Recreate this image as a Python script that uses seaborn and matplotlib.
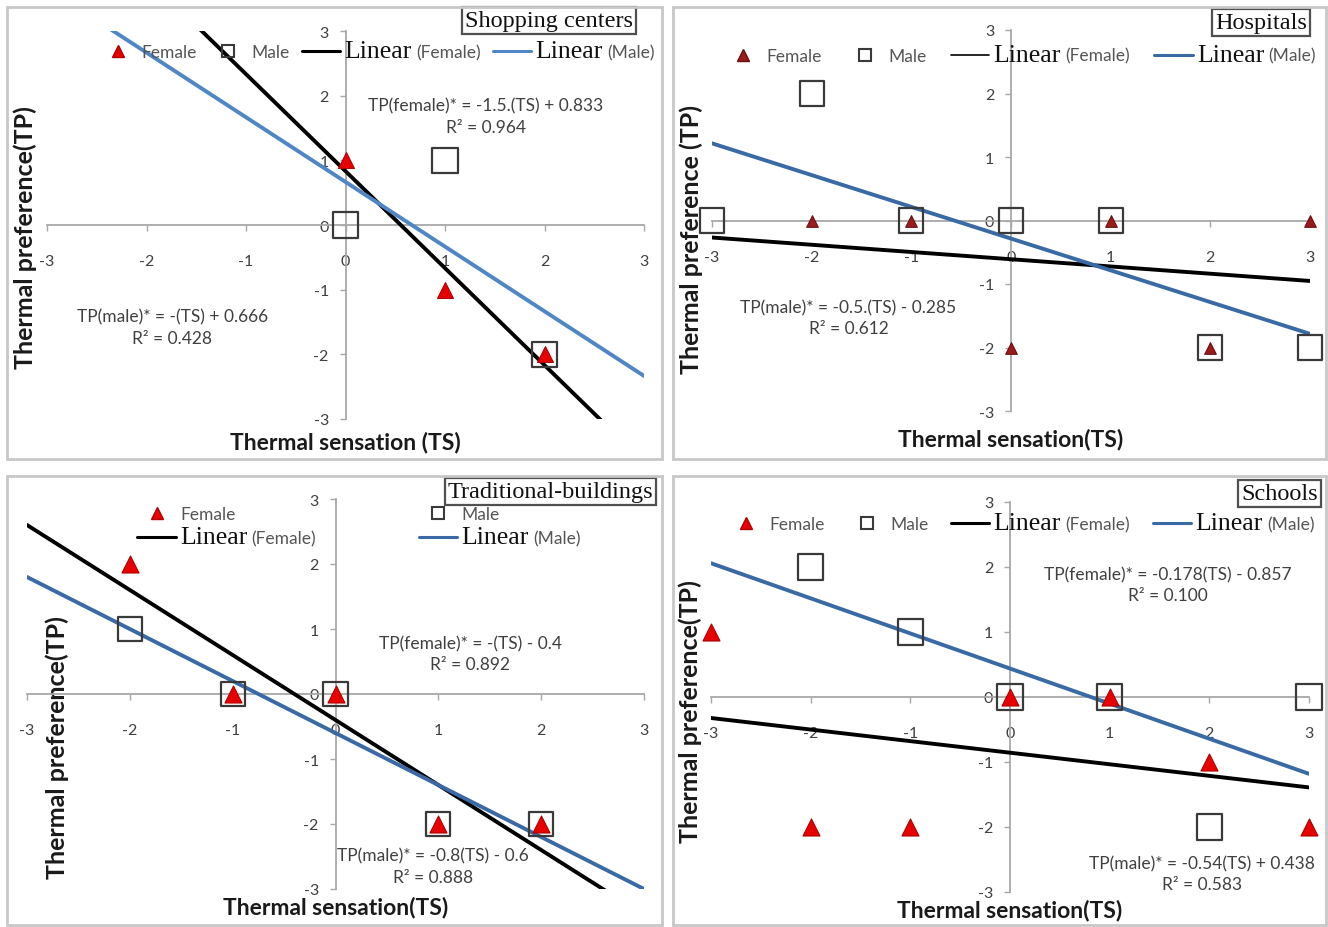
import numpy as np
import pandas as pd
import matplotlib
matplotlib.use("Agg")
import matplotlib.pyplot as plt
import seaborn as sns
from matplotlib.patches import Rectangle
from matplotlib.lines import Line2D
from matplotlib.offsetbox import TextArea

# ---------------- data ----------------
panel_titles = ["Shopping centers", "Hospitals", "Traditional-buildings", "Schools"]

female_ts = [[0, 1, 2], [-2, -1, 0, 1, 2, 3], [-2, -1, 0, 1, 2], [-3, -2, -1, 0, 1, 2, 3]]
female_tp = [[1, -1, -2], [0, 0, -2, 0, -2, 0], [2, 0, 0, -2, -2], [1, -2, -2, 0, 0, -1, -2]]
male_ts = [[0, 1, 2], [-3, -2, -1, 0, 1, 2, 3], [-2, -1, 0, 1, 2], [-2, -1, 0, 1, 2, 3]]
male_tp = [[0, 1, -2], [0, 2, 0, 0, 0, -2, -2], [1, 0, 0, -2, -2], [2, 1, 0, 0, -2, 0]]

female_slope = [-1.5, -0.114, -1.0, -0.178]
female_intercept = [0.833, -0.61, -0.4, -0.857]
male_slope = [-1.0, -0.5, -0.8, -0.54]
male_intercept = [0.666, -0.285, -0.6, 0.438]

female_eq = ["TP(female)* = -1.5.(TS) + 0.833\nR² = 0.964", None,
             "TP(female)* = -(TS) - 0.4\nR² = 0.892",
             "TP(female)* = -0.178(TS) - 0.857\nR² = 0.100"]
male_eq = ["TP(male)* = -(TS) + 0.666\nR² = 0.428",
           "TP(male)* = -0.5.(TS) - 0.285\nR² = 0.612",
           "TP(male)* = -0.8(TS) - 0.6\nR² = 0.888",
           "TP(male)* = -0.54(TS) + 0.438\nR² = 0.583"]

axis_ticks = [-3, -2, -1, 0, 1, 2, 3]
x_labels = ["Thermal sensation (TS)", "Thermal sensation(TS)", "Thermal sensation(TS)", "Thermal sensation(TS)"]
y_labels = ["Thermal preference(TP)", "Thermal preference (TP)", "Thermal preference(TP)", "Thermal preference(TP)"]
legend_labels = ["Female", "Male", "Linear", "Linear"]
legend_suffix = ["(Female)", "(Male)"]

# ---------------- style / layout ----------------
sns.set_style("white")
plt.rcParams["font.family"] = ["Lato", "DejaVu Sans"]

W, H = 1328, 928
fig = plt.figure(figsize=(W / 100, H / 100), dpi=100)

def fx(px):
    return px / W

def fy(py):
    return 1 - py / H

# data area rectangles in pixels (left, top, right, bottom)
axes_px = [(47, 32, 644, 420), (712, 31, 1310, 412), (27, 500, 644, 890), (711, 503, 1309, 893)]
frames_px = [(7, 8, 662, 460), (673, 8, 1326, 460), (7, 477, 662, 926), (673, 477, 1326, 926)]
title_pos = [(0.982, 1.055), (0.995, 1.048), (1.015, 1.047), (1.015, 1.049)]
legend_anchor = [(0.552, 0.948), (0.515, 0.935), (0.538, 0.928), (0.518, 0.946)]
legend_ncol = [4, 4, 2, 4]
legend_colsp = [0.7, 1.4, 5.9, 1.3]
legend_rowsp = [0.0, 0.0, 0.25, 0.0]
xlabel_pos = [-0.057, -0.073, -0.046, -0.045]
ylabel_pos = [(-0.036, 0.471), (-0.034, 0.453), (0.049, 0.364), (-0.035, 0.464)]
female_eq_pos = [(1.41, 1.68), None, (1.31, 0.62), (1.58, 1.73)]
male_eq_pos = [(-1.74, -1.58), (-1.63, -1.53), (0.95, -2.65), (1.93, -2.72)]
blue = ["#4f86c6", "#3a6aa6", "#3a6aa6", "#3a6aa6"]
tri_face = ["#e80000", "#9b1b1b", "#e80000", "#e80000"]
tri_edge = ["#b00000", "#6b1010", "#b00000", "#b00000"]
tri_size = [130, 70, 150, 150]
sq_size = [330, 300, 300, 330]

text_gray = "#404040"

for k, (fl, ft, fr, fb) in enumerate(frames_px):
    fig.add_artist(Rectangle((fx(fl), fy(fb)), fx(fr - fl), (fb - ft) / H,
                             transform=fig.transFigure, fill=False,
                             edgecolor="#c8c8c8", linewidth=2))

for k in range(4):
    l, t, r, b = axes_px[k]
    ax = fig.add_axes([fx(l), fy(b), fx(r - l), (b - t) / H])
    ax.set_facecolor("none")

    xs = np.array([axis_ticks[0], axis_ticks[-1]], dtype=float)
    sns.lineplot(x=xs, y=female_slope[k] * xs + female_intercept[k], color="black",
                 linewidth=2.8, ax=ax, zorder=2)
    sns.lineplot(x=xs, y=male_slope[k] * xs + male_intercept[k], color=blue[k],
                 linewidth=2.8, ax=ax, zorder=2)

    sns.scatterplot(x=male_ts[k], y=male_tp[k], marker="s", s=sq_size[k],
                    facecolor="none", edgecolor="#3a3a3a", linewidth=1.6,
                    ax=ax, zorder=3, clip_on=False)
    sns.scatterplot(x=female_ts[k], y=female_tp[k], marker="^", s=tri_size[k],
                    color=tri_face[k], edgecolor=tri_edge[k], linewidth=0.8,
                    ax=ax, zorder=4, clip_on=False)

    ax.set_xlim(axis_ticks[0], axis_ticks[-1])
    ax.set_ylim(axis_ticks[0], axis_ticks[-1])
    ax.set_xticks(axis_ticks)
    ax.set_yticks(axis_ticks)
    ax.set_xticklabels([str(v) for v in axis_ticks])
    ax.set_yticklabels([str(v) for v in axis_ticks])

    for side in ["top", "right"]:
        ax.spines[side].set_visible(False)
    for side in ["left", "bottom"]:
        ax.spines[side].set_position(("data", 0))
        ax.spines[side].set_color("#a8a8a8")
        ax.spines[side].set_linewidth(1.3)
        ax.spines[side].set_zorder(1)
    ax.tick_params(axis="x", direction="out", length=4, width=1, color="#a8a8a8",
                   pad=17, labelsize=11.5, labelcolor=text_gray, bottom=True)
    ax.tick_params(axis="y", direction="out", length=4, width=1, color="#a8a8a8",
                   pad=8, labelsize=11.5, labelcolor=text_gray, left=True)

    ax.set_xlabel(x_labels[k], fontsize=16.5, fontweight="bold", color="#1a1a1a", va="center")
    ax.xaxis.set_label_coords(0.5, xlabel_pos[k])
    ax.set_ylabel(y_labels[k], fontsize=18, fontweight="bold", color="#1a1a1a", va="center")
    ax.yaxis.set_label_coords(*ylabel_pos[k])

    # equations
    if female_eq[k] is not None:
        ax.text(*female_eq_pos[k], female_eq[k], ha="center", va="center", fontsize=12.5,
                color=text_gray, linespacing=1.4, zorder=6)
    ax.text(*male_eq_pos[k], male_eq[k], ha="center", va="center", fontsize=12.5,
            color=text_gray, linespacing=1.4, zorder=6)

    # title box
    ax.text(*title_pos[k], panel_titles[k], transform=ax.transAxes, ha="right", va="top",
            family="Liberation Serif", fontsize=17.5, color="#111111", zorder=10,
            bbox=dict(boxstyle="square,pad=0.12", fc="white", ec="#505050", lw=1.6))

    # legend
    h_f = Line2D([], [], ls="none", marker="^", ms=9, mfc=tri_face[k], mec=tri_edge[k])
    h_m = Line2D([], [], ls="none", marker="s", ms=9, mfc="none", mec="#3a3a3a", mew=1.5)
    h_lf = Line2D([], [], color="black", lw=2.2 if k != 1 else 1.2)
    h_lm = Line2D([], [], color=blue[k], lw=2.2)
    if legend_ncol[k] == 2:
        handles = [h_f, h_lf, h_m, h_lm]
        labels = [legend_labels[0], legend_labels[2], legend_labels[1], legend_labels[3]]
    else:
        handles = [h_f, h_m, h_lf, h_lm]
        labels = legend_labels
    leg = ax.legend(handles, labels, loc="center", bbox_to_anchor=legend_anchor[k],
                    ncol=legend_ncol[k], frameon=False, fontsize=12.5,
                    handlelength=2.2, handletextpad=0.25, columnspacing=legend_colsp[k],
                    labelspacing=legend_rowsp[k], borderpad=0)
    leg.set_zorder(8)
    texts = leg.get_texts()
    suffix_map = {}
    for i, txt in enumerate(texts):
        if txt.get_text() == "Linear":
            txt.set_family("Liberation Serif")
            txt.set_fontsize(18.5)
            txt.set_color("#111111")
            suffix_map[id(txt)] = legend_suffix[0] if handles[i] is h_lf else legend_suffix[1]
        else:
            txt.set_color("#555555")
    for col in leg._legend_handle_box.get_children():
        for item in col.get_children():
            ch = item.get_children()
            for c in ch:
                if isinstance(c, TextArea) and id(c._text) in suffix_map:
                    ta = TextArea(suffix_map[id(c._text)],
                                  textprops=dict(fontsize=12.5, color="#555555", family="Lato"))
                    ta.set_figure(fig)
                    ch.append(ta)
                    break

fig.savefig("out.png", dpi=100, facecolor="white")
